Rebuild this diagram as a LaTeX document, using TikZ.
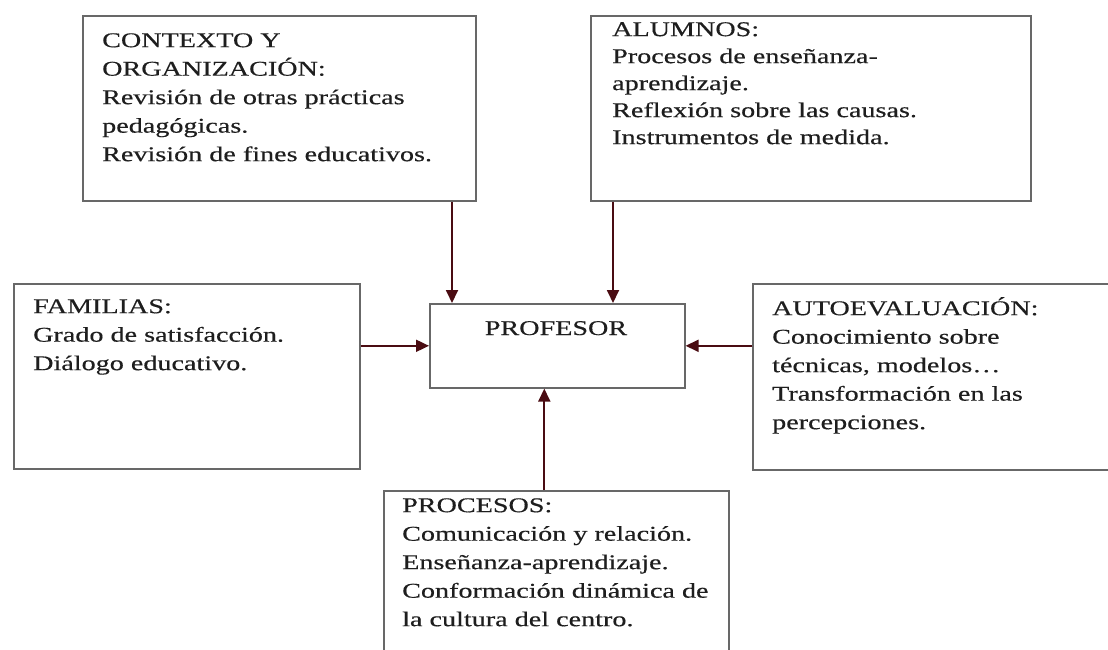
\documentclass[tikz,border=0pt]{standalone}
\usepackage{fontspec}
\newfontfamily\boxfont[FakeStretch=1.34,FakeBold=0.4]{Liberation Serif}
\usetikzlibrary{arrows.meta}
\definecolor{framegray}{HTML}{686868}
\definecolor{arrowred}{HTML}{4A0C12}
\definecolor{inkgray}{HTML}{1E1E1E}
\tikzset{>={Triangle[length=13pt,width=12pt]}}
\tikzset{
  box/.style={draw=framegray, line width=1.6pt, rectangle, anchor=north west, inner sep=0pt},
  txt/.style={anchor=north west, inner sep=0pt, align=left, text=inkgray,
              font=\boxfont\fontsize{21}{28.5}\selectfont},
  arr/.style={->, draw=arrowred, line width=1.8pt}
}

\begin{document}
\begin{tikzpicture}[x=1pt,y=-1pt]
    \clip (0,0) rectangle (1108,649);
    \fill[white] (0,0) rectangle (1108,649);
    % boxes
    \node[box, minimum width=393, minimum height=185] (ctx) at (82,15) {};
    \node[box, minimum width=440, minimum height=185] (alu) at (590,15) {};
    \node[box, minimum width=346, minimum height=185] (fam) at (13,283) {};
    \node[box, minimum width=255, minimum height=84] (prof) at (429,303) {};
    \node[box, minimum width=365, minimum height=186] (auto) at (752,283) {};
    \node[box, minimum width=345, minimum height=175] (proc) at (383,490) {};
    % texts
    \node[txt] (ctxt) at (102,27) {\strut CONTEXTO Y\\ORGANIZACIÓN:\\Revisión de otras prácticas\\pedagógicas.\\Revisión de fines educativos.};
    \node[txt, font=\boxfont\fontsize{21}{27}\selectfont] (alut) at (612,17) {\strut ALUMNOS:\\Procesos de enseñanza-\\aprendizaje.\\Reflexión sobre las causas.\\Instrumentos de medida.};
    \node[txt] (famt) at (33,293) {\strut FAMILIAS:\\Grado de satisfacción.\\Diálogo educativo.};
    \node[txt] (autot) at (772,295) {\strut AUTOEVALUACIÓN:\\Conocimiento sobre\\técnicas, modelos…\\Transformación en las\\percepciones.};
    \node[txt, anchor=base] (proft) at (556,335) {PROFESOR};
    \node[txt] (proct) at (402,492) {\strut PROCESOS:\\Comunicación y relación.\\Enseñanza-aprendizaje.\\Conformación dinámica de\\la cultura del centro.};
    % arrows
    \draw[arr] ([xshift=23]prof.north west |- ctx.south) -- ([xshift=23]prof.north west);
    \draw[arr] ([xshift=23]alu.south west) -- ([xshift=23]alu.south west |- prof.north);
    \draw[arr] (fam.east |- prof.west) -- (prof.west);
    \draw[arr] (auto.west |- prof.east) -- (prof.east);
    \draw[arr] ([xshift=-13]prof.south |- proc.north) -- ([xshift=-13]prof.south);
\end{tikzpicture}
\end{document}
